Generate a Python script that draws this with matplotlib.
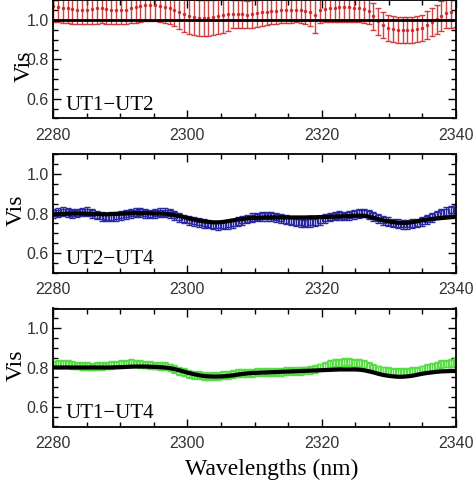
import numpy as np
import matplotlib
matplotlib.use("Agg")
import matplotlib.pyplot as plt
from matplotlib.ticker import MultipleLocator

# wavelength grid of the spectra (nm)
wave = np.linspace(2280, 2340, 84)

# UT1-UT2 : measured visibility, error, model
vis_12 = [1.07, 1.068, 1.064, 1.06, 1.056, 1.052, 1.05, 1.052, 1.056, 1.06, 1.062, 1.058,
          1.054, 1.05, 1.05, 1.054, 1.06, 1.066, 1.072, 1.076, 1.078, 1.076, 1.072, 1.066,
          1.06, 1.05, 1.04, 1.03,
          1.02, 1.015, 1.01, 1.01, 1.012, 1.015, 1.02, 1.025, 1.03,
          1.03, 1.032, 1.03, 1.028, 1.03, 1.035, 1.04, 1.042, 1.045, 1.048, 1.05, 1.05,
          1.052, 1.054, 1.05, 1.046, 1.04, 1.025,
          1.05, 1.055, 1.06, 1.062, 1.065, 1.066, 1.065, 1.062, 1.06, 1.055, 1.045,
          1.02, 0.995, 0.975, 0.96, 0.955, 0.952,
          0.95, 0.95, 0.952, 0.955, 0.96,
          0.975, 0.99, 1.005, 1.02, 1.035, 1.04, 1.045]
err_12 = [0.078, 0.078, 0.076, 0.075, 0.074, 0.072, 0.072, 0.074, 0.076, 0.077, 0.078, 0.076,
          0.074, 0.072, 0.072, 0.074, 0.076, 0.078, 0.08, 0.08, 0.082, 0.082, 0.08, 0.078,
          0.08, 0.082, 0.085, 0.088,
          0.09, 0.092, 0.092, 0.09, 0.09, 0.09, 0.09, 0.088, 0.085,
          0.072, 0.072, 0.07, 0.07, 0.07, 0.07, 0.068, 0.066, 0.065, 0.065, 0.065, 0.064,
          0.064, 0.065, 0.066, 0.066, 0.07, 0.09,
          0.065, 0.066, 0.068, 0.07, 0.072, 0.074, 0.074, 0.072, 0.07, 0.068, 0.066,
          0.068, 0.068, 0.068, 0.068, 0.068, 0.066,
          0.066, 0.066, 0.066, 0.066, 0.068,
          0.07, 0.072, 0.074, 0.075, 0.076, 0.078, 0.078]
model_12 = 1.0

# UT2-UT4
vis_24 = [0.80, 0.805, 0.81, 0.806, 0.80, 0.802, 0.808, 0.81, 0.80, 0.792, 0.785, 0.782,
          0.784, 0.786, 0.79, 0.795, 0.80, 0.805, 0.806, 0.80, 0.798, 0.80, 0.804, 0.805,
          0.80, 0.79, 0.78, 0.772, 0.765, 0.76, 0.755, 0.75, 0.746, 0.742, 0.74, 0.742, 0.745,
          0.75, 0.758, 0.765, 0.772, 0.778, 0.782, 0.785, 0.786, 0.785, 0.78, 0.775, 0.768,
          0.762, 0.758, 0.755, 0.754, 0.755, 0.758, 0.765,
          0.775, 0.782, 0.788, 0.79, 0.788, 0.79, 0.795, 0.80, 0.802, 0.795,
          0.785, 0.775, 0.765, 0.758, 0.752, 0.748, 0.745, 0.745, 0.748, 0.752, 0.76,
          0.77, 0.78, 0.792, 0.802, 0.81, 0.816, 0.82]
err_24 = 0.022
model_24 = [0.796, 0.797, 0.798, 0.799, 0.80, 0.80, 0.80, 0.799, 0.798, 0.797, 0.796, 0.796,
            0.797, 0.798, 0.799, 0.80, 0.801, 0.802, 0.802, 0.802, 0.801, 0.80, 0.80, 0.799,
            0.796, 0.792, 0.787, 0.781, 0.775, 0.769, 0.764, 0.76, 0.757, 0.755, 0.755, 0.757, 0.761,
            0.765, 0.769, 0.772, 0.775, 0.777, 0.778, 0.779, 0.78, 0.78, 0.78, 0.78, 0.78,
            0.78, 0.78, 0.78, 0.78, 0.781, 0.781, 0.782,
            0.782, 0.783, 0.784, 0.785, 0.786, 0.787, 0.788, 0.789, 0.788, 0.784,
            0.778, 0.771, 0.765, 0.76, 0.756, 0.753, 0.752, 0.753, 0.756, 0.76, 0.765,
            0.769, 0.772, 0.775, 0.777, 0.779, 0.781, 0.783]

# UT1-UT4
vis_14 = [0.815, 0.818, 0.82, 0.816, 0.812, 0.81, 0.808, 0.806, 0.805, 0.806, 0.808, 0.81,
          0.812, 0.815, 0.818, 0.82, 0.822, 0.82, 0.818, 0.815, 0.812, 0.81, 0.808, 0.806,
          0.80, 0.792, 0.783, 0.775, 0.768, 0.763, 0.76, 0.758, 0.757, 0.757, 0.758, 0.76, 0.763,
          0.767, 0.77, 0.772, 0.772, 0.773, 0.775, 0.776, 0.776, 0.778, 0.778, 0.779, 0.78,
          0.78, 0.782, 0.784, 0.785, 0.787, 0.792, 0.80,
          0.81, 0.818, 0.822, 0.825, 0.826, 0.826, 0.825, 0.823, 0.818, 0.808,
          0.798, 0.79, 0.785, 0.78, 0.778, 0.777, 0.777, 0.778, 0.78, 0.784, 0.79,
          0.797, 0.804, 0.81, 0.816, 0.82, 0.824, 0.826]
err_14 = 0.02
model_14 = [0.80, 0.80, 0.80, 0.80, 0.80, 0.80, 0.80, 0.80, 0.80, 0.80, 0.80, 0.80,
            0.80, 0.801, 0.802, 0.803, 0.804, 0.805, 0.805, 0.805, 0.804, 0.803, 0.802, 0.80,
            0.797, 0.792, 0.786, 0.779, 0.772, 0.766, 0.761, 0.757, 0.755, 0.754, 0.754, 0.755, 0.757,
            0.76, 0.764, 0.767, 0.77, 0.772, 0.773, 0.774, 0.775, 0.776, 0.777, 0.778, 0.779,
            0.78, 0.781, 0.782, 0.783, 0.784, 0.785, 0.786,
            0.787, 0.788, 0.789, 0.79, 0.79, 0.79, 0.79, 0.789, 0.786, 0.781,
            0.775, 0.768, 0.762, 0.758, 0.755, 0.753, 0.753, 0.755, 0.758, 0.763, 0.768,
            0.772, 0.775, 0.778, 0.78, 0.781, 0.782, 0.782]

baselines = ["UT1\u2212UT2", "UT2\u2212UT4", "UT1\u2212UT4"]

serif = "Liberation Serif"
sans = "Liberation Sans"

fig = plt.figure(figsize=(4.76, 4.86), dpi=100)
h = 118 / 486
bottoms = [1 - 118.5 / 486, 1 - 272.5 / 486, 1 - 426.5 / 486]
left, width = 53 / 476, 403 / 476
axes = [fig.add_axes([left, b, width, h]) for b in bottoms]

# panel 1: red points with big error bars, flat model
ax = axes[0]
ax.errorbar(wave, vis_12, yerr=err_12, fmt='.', color='#cc2222', ms=3,
            elinewidth=1, capsize=2.5, capthick=1, alpha=0.85)
ax.axhline(model_12, color='black', lw=2, zorder=5)

# panel 2: blue squares
ax = axes[1]
ax.errorbar(wave, vis_24, yerr=err_24, fmt='s', color='#2a2aa0', mfc='none', ms=4,
            mew=1, elinewidth=1, capsize=2.5, capthick=1)
ax.plot(wave, model_24, color='black', lw=3, zorder=5)

# panel 3: green squares
ax = axes[2]
ax.errorbar(wave, vis_14, yerr=err_14, fmt='s', color='#55dd44', mfc='none', ms=4,
            mew=1, elinewidth=1, capsize=2.5, capthick=1)
ax.plot(wave, model_14, color='black', lw=3, zorder=5)

label_x = [-0.045, -0.066, -0.066]
label_y = [0.44, 0.53, 0.52]
for i, ax in enumerate(axes):
    ax.set_xlim(2280, 2340)
    ax.set_ylim(0.5, 1.1)
    ax.xaxis.set_major_locator(MultipleLocator(20))
    ax.xaxis.set_minor_locator(MultipleLocator(5))
    ax.yaxis.set_minor_locator(MultipleLocator(0.05))
    ax.set_yticks([0.6, 0.8, 1.0])
    ax.set_yticklabels(["0.6", "0.8", "1.0"])
    ax.tick_params(which='both', direction='in', top=True, right=True, width=1)
    ax.tick_params(which='major', length=6)
    ax.tick_params(which='minor', length=3.5)
    ax.tick_params(axis='x', which='major', pad=7)
    ax.tick_params(axis='y', which='major', pad=3)
    for lab in ax.get_xticklabels() + ax.get_yticklabels():
        lab.set_fontfamily(sans)
        lab.set_fontsize(11.5)
        lab.set_color('#333333')
    for sp in ax.spines.values():
        sp.set_linewidth(1.3)
    ax.set_ylabel("Vis", fontsize=17, family=serif)
    ax.yaxis.set_label_coords(label_x[i], label_y[i])
    ax.text(0.03, 0.075, baselines[i], transform=ax.transAxes, fontsize=15,
            family=serif, va='baseline', ha='left')

fig.text(272 / 476, 1 - 475 / 486, "Wavelengths (nm)", fontsize=17, family=serif,
         ha='center', va='baseline')

fig.savefig("out.png", dpi=100)
